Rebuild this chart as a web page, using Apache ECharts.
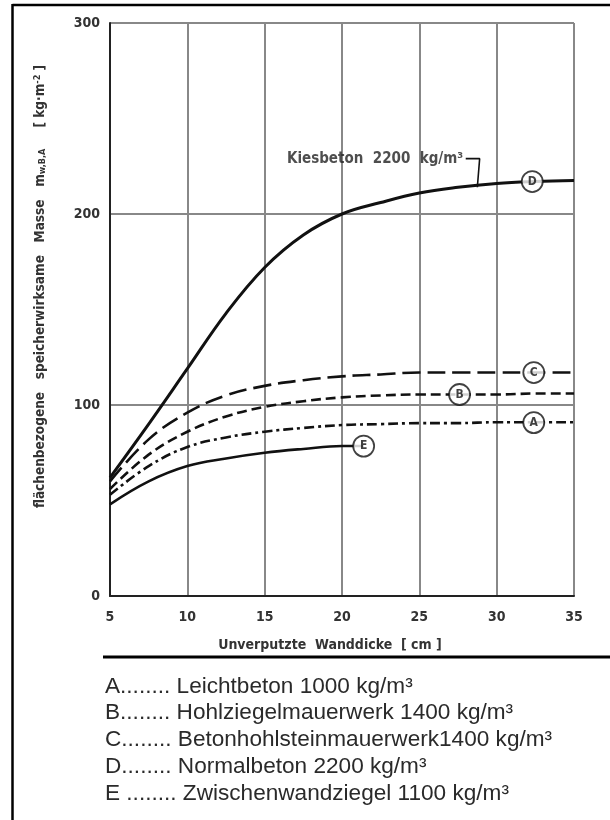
<!DOCTYPE html>
<html>
<head>
<meta charset="utf-8">
<script src="https://cdn.jsdelivr.net/npm/echarts@6/dist/echarts.min.js"></script>
<style>
html,body{margin:0;padding:0;background:#fff;}
#chart{width:610px;height:820px;}
</style>
</head>
<body>
<div id="chart"></div>
<script>
// Unverputzte Wanddicke [cm]
const thickness = [5, 7.5, 10, 12.5, 15, 17.5, 20, 22.5, 25, 27.5, 30, 32.5, 35];
// flächenbezogene speicherwirksame Masse [kg/m²]
const curveD = [62, 90, 119, 148, 172, 189, 200, 206, 211, 214, 216, 217, 217.5];
const curveC = [60, 82, 96, 105, 110, 113, 115, 116, 117, 117, 117, 117, 117];
const curveB = [56, 74, 86, 94, 99, 102, 104, 105, 105.5, 105.5, 105.5, 106, 106];
const curveA = [53, 68, 78, 83, 86, 88, 89.5, 90, 90.5, 90.5, 91, 91, 91];
const thicknessE = [5, 7.5, 10, 12.5, 15, 17.5, 20, 21.4];
const curveE = [48, 60, 68, 72, 75, 77, 78.5, 78.5];

const curveLabels = ['A', 'B', 'C', 'D', 'E'];
const labelX = [32.4, 27.6, 32.4, 32.3, 21.4];
const labelY = [90.8, 105.5, 117, 217, 78.5];

const kiesText = 'Kiesbeton  2200  kg/m³';
const kiesLeaderX = [28.0, 28.9, 28.75];
const kiesLeaderY = [229, 229, 214];

const xTicks = [5, 10, 15, 20, 25, 30, 35];
const yTicks = [0, 100, 200, 300];

const legendLines = [
  'A........ Leichtbeton 1000 kg/m³',
  'B........ Hohlziegelmauerwerk 1400 kg/m³',
  'C........ Betonhohlsteinmauerwerk1400 kg/m³',
  'D........ Normalbeton 2200 kg/m³',
  'E ........ Zwischenwandziegel 1100 kg/m³'
];

const techFont = '"DejaVu Sans Condensed", "DejaVu Sans", sans-serif';
const pair = (xs, ys) => xs.map((x, i) => [x, ys[i]]);

const chart = echarts.init(document.getElementById('chart'), null, {renderer: 'canvas'});

const lineBase = {
  type: 'line', smooth: 0.4, showSymbol: false, symbol: 'none', z: 3,
  silent: true, animation: false
};

const legendGraphics = legendLines.map((t, i) => ({
  type: 'text', left: 105, top: 675 + i * 26.7, z: 10,
  style: {text: t, font: '22.6px "Liberation Sans", Arial, sans-serif', fill: '#2a2a2a'}
}));

const option = {
  animation: false,
  backgroundColor: '#fff',
  grid: {left: 110, right: 36, top: 23, bottom: 224, containLabel: false},
  xAxis: {
    type: 'value', min: 5, max: 35, interval: 5,
    name: 'Unverputzte  Wanddicke  [ cm ]', nameLocation: 'middle', nameGap: 42,
    nameTextStyle: {fontFamily: techFont, fontWeight: 'bold', fontSize: 14, color: '#333', padding: [0, 24, 0, 0]},
    axisLine: {show: true, lineStyle: {color: '#222', width: 2}},
    axisTick: {show: false},
    axisLabel: {margin: 14, fontFamily: techFont, fontWeight: 'bold', fontSize: 14, color: '#333',
      formatter: v => xTicks.includes(v) ? String(v) : ''},
    splitLine: {show: true, lineStyle: {color: '#888', width: 2}}
  },
  yAxis: {
    type: 'value', min: 0, max: 300, interval: 100,
    name: 'flächenbezogene   speicherwirksame   Masse   m{s|w,B,A}     [ kg·m{p|-2} ]',
    nameLocation: 'middle', nameGap: 63, nameRotate: 90,
    nameTextStyle: {fontFamily: techFont, fontWeight: 'bold', fontSize: 13.5, color: '#333',
      padding: [0, 0, 0, 46],
      rich: {
        s: {fontFamily: techFont, fontWeight: 'bold', fontSize: 9, color: '#333', verticalAlign: 'bottom'},
        p: {fontFamily: techFont, fontWeight: 'bold', fontSize: 9, color: '#333', verticalAlign: 'top'}
      }},
    axisLine: {show: true, lineStyle: {color: '#222', width: 2}},
    axisTick: {show: false},
    axisLabel: {margin: 10, fontFamily: techFont, fontWeight: 'bold', fontSize: 14, color: '#333',
      formatter: v => yTicks.includes(v) ? String(v) : ''},
    splitLine: {show: true, lineStyle: {color: '#888', width: 2}}
  },
  series: [
    Object.assign({}, lineBase, {name: 'D', data: pair(thickness, curveD),
      lineStyle: {color: '#111', width: 3}}),
    Object.assign({}, lineBase, {name: 'C', data: pair(thickness, curveC),
      lineStyle: {color: '#111', width: 2.6, type: [18, 7]}}),
    Object.assign({}, lineBase, {name: 'B', data: pair(thickness, curveB),
      lineStyle: {color: '#111', width: 2.6, type: [10, 5]}}),
    Object.assign({}, lineBase, {name: 'A', data: pair(thickness, curveA),
      lineStyle: {color: '#111', width: 2.6, type: [10, 4, 3, 4]}}),
    Object.assign({}, lineBase, {name: 'E', data: pair(thicknessE, curveE),
      lineStyle: {color: '#111', width: 2.6}}),
    {
      type: 'line', name: 'leader', data: pair(kiesLeaderX, kiesLeaderY), smooth: false,
      symbol: 'none', showSymbol: false, z: 4, silent: true,
      lineStyle: {color: '#111', width: 1.6}
    },
    {
      type: 'scatter', name: 'kies', data: [[kiesLeaderX[0], kiesLeaderY[0]]], symbolSize: 1,
      itemStyle: {color: 'rgba(0,0,0,0)'}, z: 5, silent: true,
      label: {show: true, position: 'left', distance: 2, formatter: kiesText,
        fontFamily: techFont, fontWeight: 'bold', fontSize: 15, color: '#222'}
    },
    {
      type: 'scatter', name: 'labels', data: pair(labelX, labelY), symbol: 'circle', symbolSize: 21,
      z: 6, silent: true,
      itemStyle: {color: '#fff', borderColor: '#111', borderWidth: 1.8},
      label: {show: true, position: 'inside', formatter: p => curveLabels[p.dataIndex],
        fontFamily: techFont, fontWeight: 'bold', fontSize: 12, color: '#111'}
    }
  ],
  graphic: [
    {type: 'line', z: 10, shape: {x1: 12.5, y1: 5, x2: 610, y2: 5}, style: {stroke: '#000', lineWidth: 2.5}},
    {type: 'line', z: 10, shape: {x1: 12.5, y1: 4, x2: 12.5, y2: 820}, style: {stroke: '#000', lineWidth: 2.5}},
    {type: 'line', z: 10, shape: {x1: 103, y1: 657, x2: 610, y2: 657}, style: {stroke: '#000', lineWidth: 3}}
  ].concat(legendGraphics)
};

chart.setOption(option);
</script>
</body>
</html>
